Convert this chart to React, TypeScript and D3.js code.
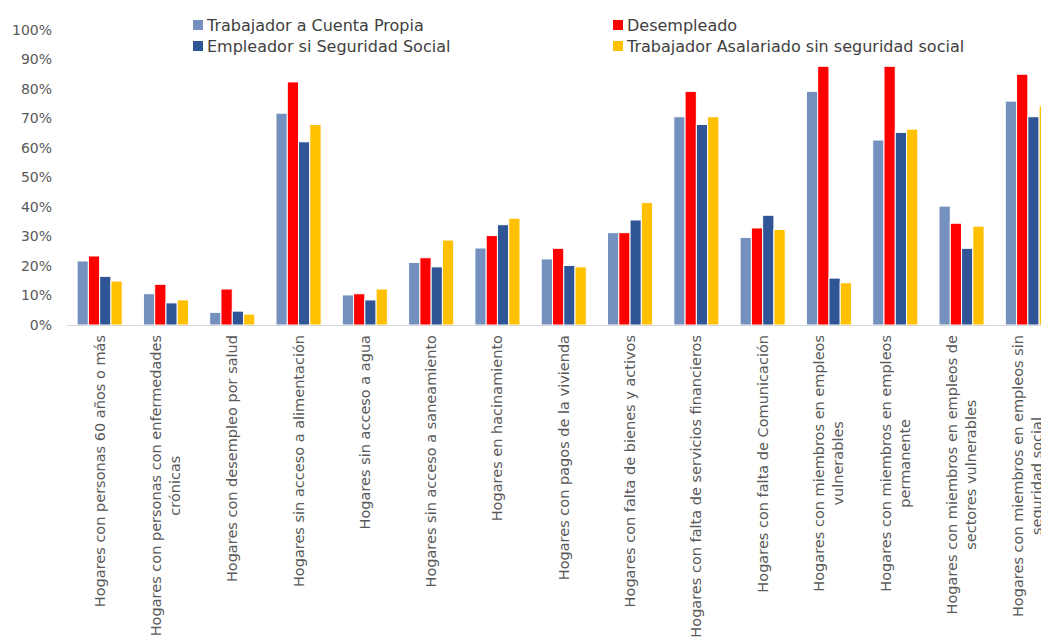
import * as d3 from "d3";
import { useEffect, useRef } from "react";

const categories: string[][] = [
  ["Hogares con personas 60 años o más"],
  ["Hogares con personas con enfermedades", "crónicas"],
  ["Hogares con desempleo por salud"],
  ["Hogares sin acceso a alimentación"],
  ["Hogares sin acceso a agua"],
  ["Hogares sin acceso a saneamiento"],
  ["Hogares en hacinamiento"],
  ["Hogares con pagos de la vivienda"],
  ["Hogares con falta de bienes y activos"],
  ["Hogares con falta de servicios financieros"],
  ["Hogares con falta de Comunicación"],
  ["Hogares con miembros en empleos", "vulnerables"],
  ["Hogares con miembros en empleos", "permanente"],
  ["Hogares con miembros en empleos de", "sectores vulnerables"],
  ["Hogares con miembros en empleos sin", "seguridad social"],
];

const seriesNames = [
  "Trabajador a Cuenta Propia",
  "Desempleado",
  "Empleador si Seguridad Social",
  "Trabajador Asalariado sin seguridad social",
];

const seriesColors = ["#7490BE", "#FF0000", "#2F5597", "#FFC000"];

// percentages per category
const cuentaPropia = [21.7, 10.6, 4.3, 71.8, 10.2, 21.2, 26.1, 22.4, 31.3, 70.6, 29.7, 79.2, 62.7, 40.3, 75.9];
const desempleado = [23.4, 13.8, 12.2, 82.4, 10.6, 22.8, 30.3, 26.0, 31.3, 79.2, 32.9, 87.7, 87.7, 34.5, 85.0];
const empleador = [16.5, 7.5, 4.7, 62.1, 8.5, 19.7, 34.0, 20.2, 35.6, 68.0, 37.2, 15.9, 65.3, 26.0, 70.6];
const asalariado = [14.9, 8.5, 3.7, 68.0, 12.2, 28.8, 36.2, 19.7, 41.5, 70.6, 32.4, 14.3, 66.4, 33.5, 74.3];

const yTicks = [0, 10, 20, 30, 40, 50, 60, 70, 80, 90, 100];

export default function App() {
  const ref = useRef<SVGSVGElement | null>(null);
  const width = 1041;
  const height = 640;

  useEffect(() => {
    if (!ref.current) return;
    const svg = d3.select(ref.current);
    svg.selectAll("*").remove();

    const series = [cuentaPropia, desempleado, empleador, asalariado];
    const keys = categories.map((c) => c.join(" "));

    const x = d3.scaleBand<string>()
      .domain(keys)
      .range([66.5, 1061])
      .paddingInner(0.32)
      .paddingOuter(0.16);

    const xs = d3.scaleBand<number>()
      .domain(d3.range(series.length))
      .range([0, x.bandwidth()]);

    const y = d3.scaleLinear().domain([0, 100]).range([325, 30]);

    // y labels
    svg.append("g")
      .selectAll("text")
      .data(yTicks)
      .enter()
      .append("text")
      .attr("x", 52)
      .attr("y", (d) => y(d))
      .attr("dy", "0.35em")
      .attr("text-anchor", "end")
      .attr("font-family", "DejaVu Sans")
      .attr("font-size", 14)
      .attr("fill", "#595959")
      .text((d) => `${d}%`);

    // bars
    const groups = svg.append("g")
      .selectAll("g")
      .data(keys)
      .enter()
      .append("g")
      .attr("transform", (d) => `translate(${x(d)},0)`);

    groups.selectAll("rect")
      .data((_, i) => series.map((s, si) => ({ si, v: s[i] })))
      .enter()
      .append("rect")
      .attr("x", (d) => xs(d.si)!)
      .attr("width", xs.bandwidth())
      .attr("y", (d) => y(d.v))
      .attr("height", (d) => y(0) - y(d.v))
      .attr("fill", (d) => seriesColors[d.si])
      .attr("stroke", "#ffffff")
      .attr("stroke-width", 1);

    // baseline
    svg.append("line")
      .attr("x1", 66.5)
      .attr("x2", 1061)
      .attr("y1", y(0) + 0.5)
      .attr("y2", y(0) + 0.5)
      .attr("stroke", "#d9d9d9")
      .attr("stroke-width", 1.2);

    // x labels, rotated; lines centred on each other, block hanging from the axis
    const lineGap = 19;
    categories.forEach((lines, i) => {
      const cx = x(keys[i])! + x.bandwidth() / 2;
      const t = svg.append("text")
        .attr("transform", `translate(${cx},335) rotate(-90)`)
        .attr("text-anchor", "middle")
        .attr("font-family", "DejaVu Sans")
        .attr("font-size", 14.5)
        .attr("fill", "#595959");
      const spans = lines.map((line, li) =>
        t.append("tspan")
          .attr("y", (li - (lines.length - 1) / 2) * lineGap)
          .attr("dominant-baseline", "central")
          .text(line)
      );
      const maxLen = d3.max(spans, (s) => (s.node() as SVGTSpanElement).getComputedTextLength()) ?? 0;
      spans.forEach((s) => s.attr("x", -maxLen / 2));
    });

    // legend
    const legendPos = [
      { x: 193, y: 25 },
      { x: 613, y: 25 },
      { x: 193, y: 46 },
      { x: 613, y: 46 },
    ];
    const legend = svg.append("g")
      .selectAll("g")
      .data(seriesNames)
      .enter()
      .append("g")
      .attr("transform", (_, i) => `translate(${legendPos[i].x},${legendPos[i].y})`);
    legend.append("rect")
      .attr("x", 0)
      .attr("y", -5)
      .attr("width", 10)
      .attr("height", 10)
      .attr("fill", (_, i) => seriesColors[i]);
    legend.append("text")
      .attr("x", 14)
      .attr("y", 0)
      .attr("dy", "0.35em")
      .attr("font-family", "DejaVu Sans")
      .attr("font-size", 16)
      .attr("fill", "#404040")
      .text((d) => d);
  }, []);

  return (
    <svg
      ref={ref}
      width={width}
      height={height}
      style={{ position: "absolute", left: 0, top: 0, background: "#ffffff" }}
    />
  );
}
